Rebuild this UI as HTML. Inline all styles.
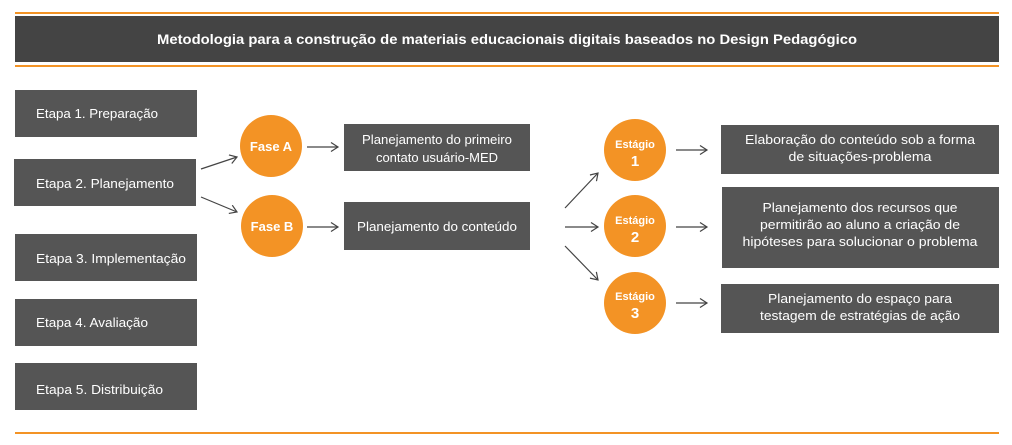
<!DOCTYPE html>
<html><head><meta charset="utf-8"><style>
html,body{margin:0;padding:0;background:#fff;}
svg{display:block;}
text{font-family:"Liberation Sans",sans-serif;fill:#fff;}
</style></head><body>
<svg width="1012" height="445" viewBox="0 0 1012 445">
<defs>
<marker id="a" markerWidth="10" markerHeight="10" refX="8" refY="5" orient="auto" markerUnits="userSpaceOnUse">
<path d="M1,0.5 L8,5 L1,9.5" fill="none" stroke="#444" stroke-width="1.2"/>
</marker>
</defs>
<rect x="15" y="12" width="984" height="2" fill="#f39325"/>
<rect x="15" y="16" width="984" height="46" fill="#444"/>
<rect x="15" y="65" width="984" height="2" fill="#f39325"/>
<rect x="15" y="432" width="984" height="2" fill="#f39325"/>
<text x="507" y="44" font-size="13.5" font-weight="bold" text-anchor="middle" textLength="700" lengthAdjust="spacingAndGlyphs">Metodologia para a construção de materiais educacionais digitais baseados no Design Pedagógico</text>

<g fill="#555">
<rect x="15" y="90" width="182" height="47"/>
<rect x="14" y="159" width="182" height="47"/>
<rect x="15" y="234" width="182" height="47"/>
<rect x="15" y="299" width="182" height="47"/>
<rect x="15" y="363" width="182" height="47"/>
<rect x="344" y="124" width="186" height="47"/>
<rect x="344" y="202" width="186" height="48"/>
<rect x="721" y="125" width="278" height="49"/>
<rect x="722" y="187" width="277" height="81"/>
<rect x="721" y="284" width="278" height="49"/>
</g>
<g font-size="13">
<text x="36" y="118" textLength="122" lengthAdjust="spacingAndGlyphs">Etapa 1. Preparação</text>
<text x="36" y="188" textLength="138" lengthAdjust="spacingAndGlyphs">Etapa 2. Planejamento</text>
<text x="36" y="263" textLength="150" lengthAdjust="spacingAndGlyphs">Etapa 3. Implementação</text>
<text x="36" y="327" textLength="112" lengthAdjust="spacingAndGlyphs">Etapa 4. Avaliação</text>
<text x="36" y="394" textLength="127" lengthAdjust="spacingAndGlyphs">Etapa 5. Distribuição</text>
<g text-anchor="middle">
<text x="437" y="144" textLength="150" lengthAdjust="spacingAndGlyphs">Planejamento do primeiro</text>
<text x="437" y="162">contato usuário-MED</text>
<text x="437" y="231" textLength="160" lengthAdjust="spacingAndGlyphs">Planejamento do conteúdo</text>
<text x="860" y="144" textLength="230" lengthAdjust="spacingAndGlyphs">Elaboração do conteúdo sob a forma</text>
<text x="860" y="161" textLength="143" lengthAdjust="spacingAndGlyphs">de situações-problema</text>
<text x="860" y="212" textLength="195" lengthAdjust="spacingAndGlyphs">Planejamento dos recursos que</text>
<text x="860" y="229" textLength="200" lengthAdjust="spacingAndGlyphs">permitirão ao aluno a criação de</text>
<text x="860" y="246" textLength="235" lengthAdjust="spacingAndGlyphs">hipóteses para solucionar o problema</text>
<text x="860" y="303" textLength="184" lengthAdjust="spacingAndGlyphs">Planejamento do espaço para</text>
<text x="860" y="320" textLength="200" lengthAdjust="spacingAndGlyphs">testagem de estratégias de ação</text>
</g>
</g>

<g fill="#f39325">
<circle cx="271" cy="146" r="31"/>
<circle cx="272" cy="226" r="31"/>
<circle cx="635" cy="150" r="31"/>
<circle cx="635" cy="226" r="31"/>
<circle cx="635" cy="303" r="31"/>
</g>
<g font-weight="bold" text-anchor="middle">
<text x="271" y="151" font-size="13">Fase A</text>
<text x="272" y="231" font-size="13">Fase B</text>
<text x="635" y="148" font-size="11">Estágio</text>
<text x="635" y="166" font-size="15">1</text>
<text x="635" y="224" font-size="11">Estágio</text>
<text x="635" y="242" font-size="15">2</text>
<text x="635" y="300" font-size="11">Estágio</text>
<text x="635" y="318" font-size="15">3</text>
</g>

<g stroke="#444" stroke-width="1.2" fill="none" marker-end="url(#a)">
<line x1="201" y1="169" x2="237" y2="157"/>
<line x1="201" y1="197" x2="237" y2="212"/>
<line x1="307" y1="147" x2="338" y2="147"/>
<line x1="307" y1="227" x2="338" y2="227"/>
<line x1="565" y1="208" x2="598" y2="173"/>
<line x1="565" y1="227" x2="598" y2="227"/>
<line x1="565" y1="246" x2="598" y2="280"/>
<line x1="676" y1="150" x2="707" y2="150"/>
<line x1="676" y1="227" x2="707" y2="227"/>
<line x1="676" y1="303" x2="707" y2="303"/>
</g>
</svg>
</body></html>
